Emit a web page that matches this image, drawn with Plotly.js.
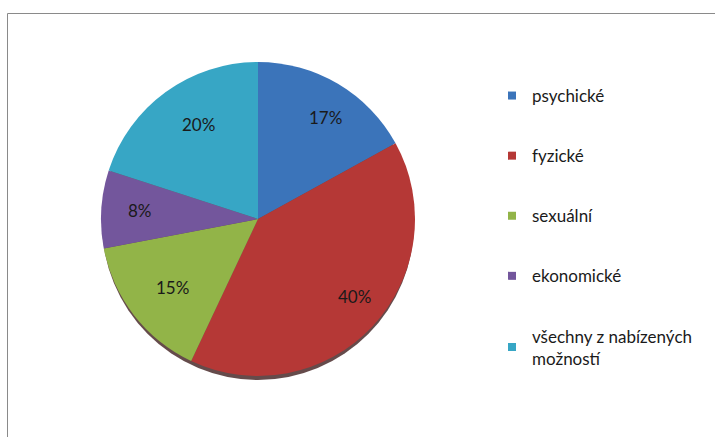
<!DOCTYPE html>
<html>
<head>
<meta charset="utf-8">
<script src="https://cdn.plot.ly/plotly-3.0.1.min.js"></script>
<style>html,body{margin:0;padding:0;background:#fff;}#chart{width:715px;height:437px;}</style>
</head>
<body>
<div id="chart"></div>
<script>
const categories = ["psychické", "fyzické", "sexuální", "ekonomické", "všechny z nabízených<br>možností"];
const values = [17, 40, 15, 8, 20];
const percentLabels = ["17%", "40%", "15%", "8%", "20%"];
const colors = ["#3b74ba", "#b53836", "#92b448", "#73569c", "#37a6c5"];

const W = 715, H = 437;
const cx = 258, cy = 219, R = 157;
const FONT = "Lato, 'Open Sans', sans-serif";

const traces = [{
  type: "pie",
  labels: categories,
  values: values,
  sort: false,
  direction: "clockwise",
  rotation: 0,
  textinfo: "none",
  hoverinfo: "label+percent",
  showlegend: false,
  marker: {colors: colors, line: {width: 0}},
  domain: {x: [(cx - R) / W, (cx + R) / W], y: [(H - cy - R) / H, (H - cy + R) / H]}
}];

categories.forEach((c, i) => {
  traces.push({
    type: "scatter", mode: "markers", x: [null], y: [null],
    name: c, legendgroup: "g" + i,
    marker: {symbol: "square", size: 8, color: colors[i]},
    hoverinfo: "skip"
  });
});

const total = values.reduce((a, b) => a + b, 0);
let cum = 0;
const annotations = values.map((v, i) => {
  const mid = (cum + v / 2) / total * 2 * Math.PI;
  cum += v;
  const r = R * 0.84;
  return {
    xref: "paper", yref: "paper",
    x: (cx + r * Math.sin(mid)) / W,
    y: (H - cy + r * Math.cos(mid)) / H,
    text: percentLabels[i], showarrow: false,
    font: {family: FONT, size: 17, color: "#1a1a1a"}
  };
});

const layout = {
  width: W, height: H,
  margin: {l: 0, r: 0, t: 0, b: 0},
  paper_bgcolor: "#ffffff", plot_bgcolor: "#ffffff",
  xaxis: {visible: false}, yaxis: {visible: false},
  showlegend: true,
  legend: {
    x: 492 / W, y: (H - 78) / H, xanchor: "left", yanchor: "top",
    font: {family: FONT, size: 17, color: "#1a1a1a"},
    tracegroupgap: 35, bgcolor: "rgba(0,0,0,0)"
  },
  annotations: annotations,
  shapes: [{
    type: "rect", xref: "paper", yref: "paper",
    x0: 7.5 / W, x1: 1.02, y0: -0.02, y1: (H - 13.5) / H,
    line: {color: "#8a8a8a", width: 1}, fillcolor: "rgba(0,0,0,0)"
  }, {
    type: "circle", xref: "paper", yref: "paper", layer: "below",
    x0: (cx - R + 1) / W, x1: (cx + R - 1) / W,
    y0: (H - cy - R - 4) / H, y1: (H - cy + R - 4) / H,
    line: {width: 0}, fillcolor: "rgba(50,15,15,0.75)"
  }],
  font: {family: FONT}
};

Plotly.newPlot("chart", traces, layout, {displayModeBar: false, staticPlot: true});
</script>
</body>
</html>
